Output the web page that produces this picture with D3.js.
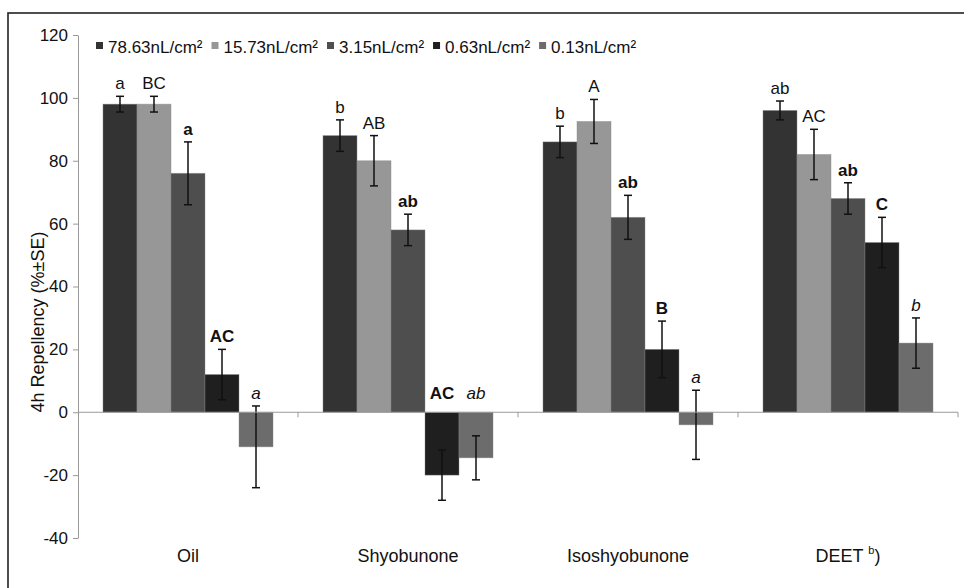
<!DOCTYPE html>
<html>
<head>
<meta charset="utf-8">
<script src="https://cdn.jsdelivr.net/npm/d3@7"></script>
<style>
    body { margin: 0; background: #fff; }
    svg text { font-family: "Liberation Sans", Arial, sans-serif; fill: #111; }
</style>
</head>
<body>
<div id="chart"></div>
<script>
    // data
    var categories = ["Oil", "Shyobunone", "Isoshyobunone", "DEET"];
    var series = ["78.63nL/cm\u00b2", "15.73nL/cm\u00b2", "3.15nL/cm\u00b2", "0.63nL/cm\u00b2", "0.13nL/cm\u00b2"];
    // values[series][category]
    var values = [
        [98, 88, 86, 96],
        [98, 80, 92.5, 82],
        [76, 58, 62, 68],
        [12, -20, 20, 54],
        [-11, -14.5, -4, 22]
    ];
    var errors = [
        [2.5, 5, 5, 3],
        [2.5, 8, 7, 8],
        [10, 5, 7, 5],
        [8, 8, 9, 8],
        [13, 7, 11, 8]
    ];
    var letters = [
        ["a", "b", "b", "ab"],
        ["BC", "AB", "A", "AC"],
        ["a", "ab", "ab", "ab"],
        ["AC", "AC", "B", "C"],
        ["a", "ab", "a", "b"]
    ];
    var yTicks = [-40, -20, 0, 20, 40, 60, 80, 100, 120];

    var colors = ["#333333", "#979797", "#4e4e4e", "#1f1f1f", "#6c6c6c"];
    var letterWeight = ["normal", "normal", "bold", "bold", "normal"];
    var letterStyle = ["normal", "normal", "normal", "normal", "italic"];

    var W = 964, H = 588;
    var svg = d3.select("#chart").append("svg")
        .attr("width", W).attr("height", H);

    // outer frame
    svg.append("rect")
        .attr("x", 8).attr("y", 13)
        .attr("width", 1000).attr("height", 700)
        .attr("fill", "none").attr("stroke", "#222").attr("stroke-width", 1.6);

    var x0 = d3.scaleBand().domain(categories).range([78, 958]);
    var x1 = d3.scaleBand().domain(d3.range(series.length))
        .range([0, x0.bandwidth()]).paddingOuter(0.735);
    var y = d3.scaleLinear().domain([-40, 120]).range([538, 35]);

    // y axis
    var yAxis = svg.append("g")
        .attr("transform", "translate(78,0)")
        .call(d3.axisLeft(y).tickValues(yTicks).tickSize(5).tickSizeOuter(0).tickPadding(5)
            .tickFormat(function (d) { return String(d); }));
    yAxis.select(".domain").attr("stroke", "#999");
    yAxis.selectAll(".tick line").attr("stroke", "#999");
    yAxis.selectAll(".tick text").style("font-size", "17px").attr("fill", "#111");

    // y title
    svg.append("text")
        .attr("transform", "translate(44," + 322 + ") rotate(-90)")
        .attr("text-anchor", "middle")
        .style("font-size", "18px")
        .text("4h Repellency (%\u00b1SE)");

    // bars
    var groups = svg.selectAll(".grp")
        .data(categories)
        .enter().append("g")
        .attr("class", "grp")
        .attr("transform", function (c) { return "translate(" + x0(c) + ",0)"; });

    groups.each(function (c, ci) {
        var g = d3.select(this);
        series.forEach(function (s, si) {
            var v = values[si][ci], e = errors[si][ci];
            var bx = x1(si), bw = x1.bandwidth();
            g.append("rect")
                .attr("x", bx)
                .attr("y", Math.min(y(v), y(0)))
                .attr("width", bw)
                .attr("height", Math.abs(y(v) - y(0)))
                .attr("fill", colors[si])
                .attr("stroke", "#8a8a8a")
                .attr("stroke-opacity", 0.5)
                .attr("stroke-width", 0.8);

            // error bar
            var cx = bx + bw / 2, top = y(v + e), bot = y(v - e);
            g.append("line").attr("x1", cx).attr("x2", cx).attr("y1", top).attr("y2", bot)
                .attr("stroke", "#111").attr("stroke-width", 1.5);
            [top, bot].forEach(function (yy) {
                g.append("line").attr("x1", cx - 4).attr("x2", cx + 4).attr("y1", yy).attr("y2", yy)
                    .attr("stroke", "#111").attr("stroke-width", 1.5);
            });

            // significance letter
            var ly = top < y(0) ? top - 7 : y(0) - 13;
            g.append("text")
                .attr("x", cx)
                .attr("y", ly)
                .attr("text-anchor", "middle")
                .style("font-size", "17px")
                .style("font-weight", letterWeight[si])
                .style("font-style", letterStyle[si])
                .text(letters[si][ci]);
        });
    });

    // x axis line at zero with boundary ticks
    svg.append("line")
        .attr("x1", 78).attr("x2", 958)
        .attr("y1", y(0)).attr("y2", y(0))
        .attr("stroke", "#999").attr("stroke-width", 1);
    categories.forEach(function (c) {
        var bx = x0(c) + x0.bandwidth();
        svg.append("line")
            .attr("x1", bx).attr("x2", bx)
            .attr("y1", y(0)).attr("y2", y(0) + 5)
            .attr("stroke", "#999");
    });

    // category labels at the bottom
    var catText = svg.selectAll(".cat")
        .data(categories)
        .enter().append("text")
        .attr("class", "cat")
        .attr("x", function (c) { return x0(c) + x0.bandwidth() / 2; })
        .attr("y", 562)
        .attr("text-anchor", "middle")
        .style("font-size", "18px");
    catText.each(function (c) {
        var t = d3.select(this);
        t.append("tspan").text(c);
        if (c === "DEET") {
            t.append("tspan").text(" ");
            t.append("tspan").attr("dy", -8).style("font-size", "11px").text("b");
            t.append("tspan").attr("dy", 8).text(")");
        }
    });

    // legend
    var lx = 96;
    series.forEach(function (s, si) {
        svg.append("rect")
            .attr("x", lx).attr("y", 42)
            .attr("width", 7).attr("height", 7)
            .attr("fill", colors[si]);
        var t = svg.append("text")
            .attr("x", lx + 12).attr("y", 53)
            .style("font-size", "17px")
            .text(s);
        lx += 12 + t.node().getComputedTextLength() + 9;
    });
</script>
</body>
</html>
